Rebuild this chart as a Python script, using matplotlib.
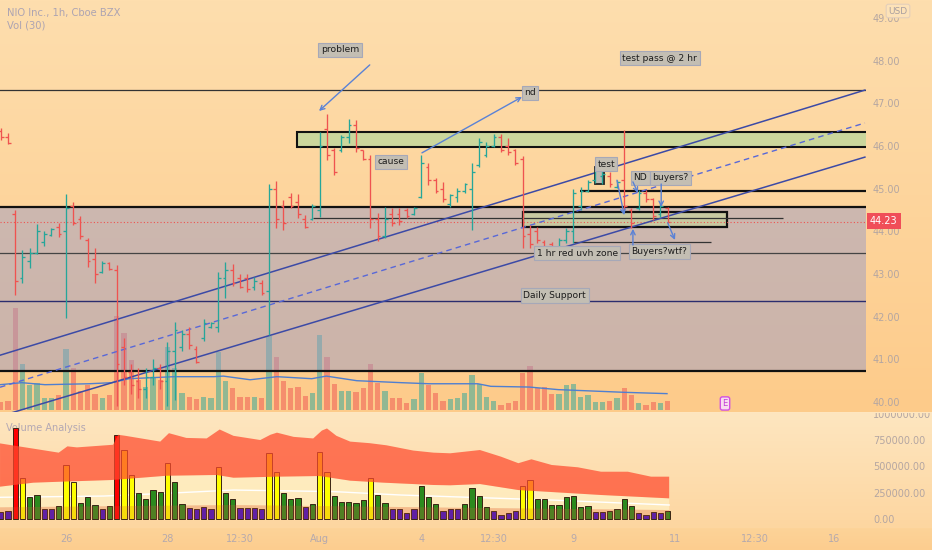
import numpy as np
import matplotlib
matplotlib.use("Agg")
import matplotlib.pyplot as plt
from matplotlib.patches import Rectangle, Polygon
from matplotlib.transforms import Bbox, TransformedBbox

# NIO 1h bars (index 0 = last bars of 22 Jul, ends 10 Aug)
opens = [46.35, 46.22, 44.40, 42.90, 43.30, 43.50, 43.75, 43.92, 44.10, 44.00,
         44.60, 44.30, 43.80, 43.35, 43.05, 43.25, 43.10, 41.30, 40.70, 40.50,
         40.30, 40.60, 40.80, 40.50, 41.20, 41.30, 41.60, 41.25, 41.50, 41.76,
         41.75, 42.90, 43.10, 42.90, 42.90, 42.70, 42.80, 42.60, 45.00, 44.60,
         44.80, 44.70, 44.30, 44.30, 44.50, 46.40, 45.90, 45.90, 46.20, 46.50,
         45.90, 45.70, 44.30, 43.90, 44.40, 44.40, 44.50, 44.40, 44.80, 45.50,
         45.20, 45.00, 44.65, 44.80, 44.95, 45.00, 45.55, 45.80, 46.00, 46.20,
         46.00, 45.90, 45.70, 43.95, 44.00, 43.75, 43.70, 43.60, 43.80, 44.00,
         44.60, 44.95, 45.20, 45.30, 45.30, 45.05, 45.20, 44.50, 44.55, 44.90,
         44.75, 44.40, 44.55]
highs = [46.42, 46.30, 44.50, 43.56, 43.61, 44.17, 44.01, 44.08, 44.20, 44.88,
         44.69, 44.36, 43.84, 43.61, 43.31, 43.28, 43.21, 41.50, 40.90, 40.80,
         40.80, 41.00, 40.90, 41.40, 41.88, 41.69, 41.76, 41.31, 41.95, 41.88,
         43.05, 43.28, 43.23, 43.00, 43.00, 42.93, 42.86, 45.11, 45.18, 44.73,
         44.90, 44.88, 44.38, 44.64, 46.33, 46.75, 45.95, 46.26, 46.63, 46.61,
         45.91, 45.79, 44.43, 44.57, 44.55, 44.55, 44.55, 44.57, 45.79, 45.60,
         45.25, 45.16, 44.88, 45.02, 45.13, 45.60, 46.19, 46.09, 46.28, 46.28,
         46.19, 45.93, 45.77, 44.15, 44.10, 43.80, 43.75, 43.84, 44.08, 44.99,
         45.04, 45.20, 45.48, 45.45, 45.39, 45.20, 46.38, 44.55, 44.97, 44.97,
         44.78, 44.66, 44.57]
lows = [46.14, 46.05, 42.51, 42.79, 43.14, 43.47, 43.66, 43.89, 43.87, 41.97,
        44.15, 43.82, 43.16, 42.79, 43.02, 43.09, 39.90, 40.40, 40.20, 40.10,
        40.10, 40.40, 40.30, 39.90, 40.05, 41.20, 41.24, 40.91, 41.43, 41.74,
        41.64, 42.44, 42.72, 42.67, 42.58, 42.63, 42.51, 41.57, 44.08, 44.03,
        44.55, 44.31, 44.08, 44.27, 44.34, 45.67, 45.32, 45.86, 46.07, 45.86,
        45.67, 44.08, 43.77, 43.84, 44.13, 44.15, 44.31, 44.38, 44.78, 45.09,
        44.90, 44.69, 44.57, 44.69, 44.90, 44.03, 45.51, 45.74, 45.98, 45.86,
        45.79, 45.55, 43.61, 43.61, 43.73, 43.52, 43.52, 43.56, 43.73, 43.73,
        44.50, 44.92, 45.13, 45.10, 45.04, 45.02, 44.50, 44.08, 44.50, 44.69,
        44.27, 44.34, 44.20]
closes = [46.20, 46.08, 42.85, 43.40, 43.50, 44.00, 43.95, 44.05, 43.95, 44.55,
          44.20, 43.90, 43.30, 43.00, 43.25, 43.12, 40.90, 40.60, 40.40, 40.30,
          40.60, 40.80, 40.50, 41.20, 41.70, 41.60, 41.35, 40.95, 41.85, 41.86,
          42.90, 43.10, 42.80, 42.70, 42.65, 42.85, 42.55, 45.00, 44.30, 44.20,
          44.60, 44.40, 44.10, 44.60, 46.00, 45.80, 45.40, 46.20, 46.50, 45.95,
          45.70, 44.30, 43.90, 44.30, 44.20, 44.25, 44.35, 44.55, 45.60, 45.20,
          44.95, 44.75, 44.85, 44.95, 45.10, 45.40, 46.10, 46.00, 46.20, 45.90,
          45.85, 45.60, 43.90, 43.70, 43.80, 43.55, 43.55, 43.80, 44.00, 44.90,
          44.95, 45.15, 45.45, 45.35, 45.10, 45.15, 44.60, 44.20, 44.90, 44.75,
          44.35, 44.60, 44.23]
volume = [63, 76, 861, 386, 212, 228, 95, 95, 123, 513,
          354, 155, 212, 133, 95, 127, 798, 655, 418, 250,
          193, 275, 256, 529, 354, 139, 108, 92, 111, 95,
          491, 244, 187, 104, 104, 104, 98, 624, 443, 244,
          187, 196, 117, 139, 633, 443, 218, 161, 158, 149,
          180, 386, 228, 155, 98, 98, 60, 92, 313, 206,
          139, 76, 92, 98, 139, 294, 218, 111, 76, 38,
          60, 76, 313, 367, 187, 193, 133, 133, 206, 218,
          111, 123, 63, 63, 76, 98, 187, 123, 54, 38,
          63, 54, 76]  # thousands
# volume analysis class per bar: b=low g=normal y=high r=very high
va_class = ("bbryggbbgy" "ygggbgryyg" "gggyggbbbb" "yggbbbbyyg" "ggbgyygggg"
            "gyggbbbbgg" "gbbbggggbb" "bbyygggggg" "ggbbggggbb" "bbg")

# Vol(30) moving average
vol_ma_x = [-0.1, 2.9, 6.1, 12.2, 15.3, 17.7, 23.9, 29.4, 30.7, 34.4, 38.1,
            42.9, 44.9, 49.1, 55.3, 59.1, 65.8, 67.6, 72.9, 76.9, 86.1, 91.9]
vol_ma = [212, 229, 212, 220, 229, 263, 280, 280, 285, 254, 280,
          263, 285, 246, 229, 220, 220, 198, 192, 170, 147, 136]

# Volume Analysis bands (thousands)
band_hi_x = [-0.1, 8.0, 9.2, 10.5, 15.5, 16.2, 17.2, 22.0, 23.2, 25.6, 28.4, 30.2,
             32.1, 35.8, 37.2, 38.1, 40.4, 43.1, 44.3, 45.0, 46.3, 48.2, 50.9,
             53.2, 56.9, 59.7, 62.0, 66.1, 69.0, 71.4, 73.2, 76.0, 79.6, 82.8,
             86.5, 89.7, 92.2]
band_hi = [718, 630, 690, 680, 705, 800, 790, 735, 815, 770, 765, 850,
           790, 750, 800, 820, 780, 765, 840, 860, 790, 735, 720,
           700, 650, 630, 624, 655, 592, 530, 567, 513, 491, 449,
           449, 402, 402]
band_mid_x = [-0.1, 4.5, 8.2, 15.2, 18.3, 22.9, 29.8, 32.1, 38.1, 44.0, 48.2,
              52.8, 59.7, 62.0, 66.1, 71.4, 76.0, 82.8, 92.2]
band_mid = [307, 345, 354, 370, 386, 411, 418, 392, 402, 408, 364,
            345, 323, 320, 332, 275, 256, 228, 196]
va_avg_x = [-0.1, 14.2, 22.9, 32.1, 46.0, 55.1, 62.0, 76.0, 92.2]
va_avg = [206, 218, 244, 275, 260, 228, 212, 180, 133]
band_lo_x = [-0.1, 32.1, 62.0, 92.2]
band_lo = [111, 133, 108, 85]

# drawn levels / zones (price)
zone_grey = (40.73, 44.57)
zone_top = (45.98, 46.33)
zone_uvh = (44.10, 44.45)
last_price = 44.23
channel_x = [-0.1, 119.2]
channel_up = [41.10, 47.31]
channel_mid = [40.35, 46.54]
channel_dn = [39.67, 45.74]

time_ticks = [9, 23, 33, 44, 58, 68, 79, 93, 104, 115]
time_labels = ["26", "28", "12:30", "Aug", "4", "12:30", "9", "11", "12:30", "16"]
price_ticks = [40, 41, 42, 43, 44, 45, 46, 47, 48, 49]
va_ticks = [0, 250000, 500000, 750000]

W, H = 932, 550
fig = plt.figure(figsize=(W / 100, H / 100), dpi=100)

# background gradient
grad = np.zeros((H, 1, 3))
def seg(y0, y1, c0, c1):
    t = np.linspace(0, 1, y1 - y0)[:, None]
    grad[y0:y1, 0, :] = (np.array(c0) * (1 - t) + np.array(c1) * t) / 255
seg(0, 412, (254, 222, 174), (253, 203, 138))
seg(412, 528, (254, 230, 192), (253, 214, 160))
seg(528, 550, (253, 211, 152), (252, 205, 143))
bg = fig.add_axes([0, 0, 1, 1], zorder=-5)
bg.imshow(grad, aspect="auto", extent=(0, 1, 0, 1))
bg.axis("off")

main_rect = [0, 1 - 412 / H, 866 / W, 412 / H]
ax_vol = fig.add_axes(main_rect, zorder=1)
ax = fig.add_axes(main_rect, zorder=2)
ax_va = fig.add_axes([0, 1 - 528 / H, 866 / W, 115 / H], zorder=1)

xlim = (-0.103, 119.35)
n = len(opens)
idx = np.arange(n)
up = np.array(closes) >= np.array(opens)

# volume overlay
for a in (ax_vol, ax, ax_va):
    a.set_facecolor("none")
    a.set_xlim(*xlim)
    for s in a.spines.values():
        s.set_visible(False)
ax_vol.bar(idx, np.array(volume) * 1000, width=0.75,
           color=np.where(up, "#26a69a", "#ef5350"), alpha=0.5, linewidth=0)
ax_vol.plot(vol_ma_x, np.array(vol_ma) * 1000, color="#4f7fd0", lw=1)
ax_vol.set_ylim(-0.02e6, 3.48e6)
ax_vol.set_xticks([])
ax_vol.set_yticks([])

# main pane
ax.set_ylim(39.77, 49.42)
ax.axhspan(*zone_grey, color="#9c9cc4", alpha=0.5, lw=0, zorder=1)
ax.axhline(zone_grey[0], color="#111", lw=1.6, zorder=3)
ax.axhline(zone_grey[1], color="#111", lw=1.6, zorder=3)
ax.add_patch(Rectangle((40.9, zone_top[0]), 90, zone_top[1] - zone_top[0],
                       fc="#cbd69c", ec="#111", lw=1.5, zorder=2))
ax.add_patch(Rectangle((72.0, zone_uvh[0]), 28.2, zone_uvh[1] - zone_uvh[0],
                       fc="#c6d896", alpha=0.55, ec="none", zorder=2))
ax.add_patch(Rectangle((72.0, zone_uvh[0]), 28.2, zone_uvh[1] - zone_uvh[0],
                       fc="none", ec="#111", lw=1.6, zorder=3))
ax.axhline(47.31, color="#333", lw=0.9, zorder=3)
ax.hlines(44.95, 79.9, 125, color="#111", lw=1.6, zorder=3)
ax.hlines(44.31, 43.1, 107.9, color="#333", lw=0.9, zorder=3)
ax.hlines(43.75, 78.9, 98.0, color="#333", lw=0.9, zorder=3)
ax.axhline(43.49, color="#444", lw=0.9, zorder=3)
ax.axhline(42.37, color="#2b2d6e", lw=1.0, zorder=3)
ax.axhline(last_price, color="#ef5350", lw=0.8, ls=(0, (1, 2)), zorder=3)

ax.plot(channel_x, channel_up, color="#3c4aa6", lw=1.1, zorder=3)
ax.plot(channel_x, channel_dn, color="#3c4aa6", lw=1.1, zorder=3)
ax.plot(channel_x, channel_mid, color="#5868d8", lw=1.0, ls=(0, (4, 3)), zorder=3)

ax.add_patch(Rectangle((82.0, 45.11), 1.2, 0.40, fc="#bdb8b0", ec="#222",
                       lw=1.3, zorder=4))

# OHLC bars
cols = np.where(up, "#26a69a", "#ef5350")
ax.vlines(idx, lows, highs, colors=cols, lw=0.95, zorder=5)
ax.hlines(opens, idx - 0.38, idx, colors=cols, lw=0.95, zorder=5)
ax.hlines(closes, idx, idx + 0.38, colors=cols, lw=0.95, zorder=5)

box = dict(boxstyle="square,pad=0.28", fc="#c3beb3", ec="#a6a8b8", lw=0.8)
notes = [("problem", 46.8, 48.25), ("nd", 73.0, 47.25), ("cause", 53.8, 45.63),
         ("test pass @ 2 hr", 90.9, 48.06), ("test", 83.5, 45.57),
         ("ND", 88.2, 45.26), ("buyers?", 92.4, 45.26),
         ("Buyers?wtf?", 90.8, 43.53), ("1 hr red uvh zone", 79.5, 43.49),
         ("Daily Support", 76.4, 42.50)]
for s, x, y in notes:
    ax.text(x, y, s, ha="center", va="center", fontsize=6.6, color="#1c1c1c",
            bbox=box, zorder=7)

arrows = [((50.9, 47.90), (43.9, 46.82)), ((58.1, 45.84), (71.9, 47.15)),
          ((87.2, 45.16), (87.9, 44.90)), ((91.1, 45.11), (91.1, 44.57)),
          ((85.0, 45.20), (86.0, 44.38)), ((87.2, 43.68), (87.2, 44.06)),
          ((92.0, 44.20), (93.0, 43.80))]
for a0, a1 in arrows:
    ax.annotate("", xy=a1, xytext=a0, zorder=8,
                arrowprops=dict(arrowstyle="->", color="#5a82d6", lw=1.0,
                                shrinkA=0, shrinkB=0, mutation_scale=8))

ax.text(99.9, 39.97, "E", ha="center", va="center", fontsize=6, color="#c23fd6",
        bbox=dict(boxstyle="round,pad=0.25", fc="#f8dcef", ec="#d250e2", lw=1),
        zorder=8)

ax.yaxis.tick_right()
ax.set_yticks(price_ticks)
ax.set_yticklabels([f"{p:.2f}" for p in price_ticks])
ax.tick_params(axis="y", length=0, pad=5, labelsize=7, labelcolor="#b4a6a2")
ax.set_xticks([])

# volume analysis pane
ax_va.set_ylim(-85470, 1006650)
va_cols = {"b": "#3f10c4", "g": "#2b8a1e", "y": "#ffff00", "r": "#ff0000"}
pale = list(zip(band_mid_x, np.array(band_mid) * 1000)) + \
    list(zip(band_lo_x[::-1], np.array(band_lo[::-1]) * 1000))
ax_va.add_patch(Polygon(pale, closed=True, fc="#fff2c6", alpha=0.7, lw=0, zorder=1))
ax_va.plot(va_avg_x, np.array(va_avg) * 1000, color="white", lw=1, zorder=1.5)
ax_va.bar(idx, np.array(volume) * 1000, width=0.7,
          color=[va_cols[c] for c in va_class], edgecolor="#3a2414", lw=0.7,
          zorder=2)
red = list(zip(band_hi_x, np.array(band_hi) * 1000)) + \
    list(zip(band_mid_x[::-1], np.array(band_mid[::-1]) * 1000))
ax_va.add_patch(Polygon(red, closed=True, fc="#ff4a2e", alpha=0.72, lw=0, zorder=3))
low = list(zip(band_lo_x, np.array(band_lo) * 1000)) + [(92.2, 0), (-0.1, 0)]
ax_va.add_patch(Polygon(low, closed=True, fc="#d85a36", alpha=0.22, lw=0, zorder=3))

ax_va.yaxis.tick_right()
ax_va.set_yticks(va_ticks)
ax_va.set_yticklabels([f"{v:.2f}" for v in va_ticks])
ax_va.tick_params(axis="y", length=0, pad=5, labelsize=7, labelcolor="#b4a6a2")
ax_va.set_xticks(time_ticks)
ax_va.set_xticklabels(time_labels)
ax_va.tick_params(axis="x", length=0, pad=4, labelsize=7, labelcolor="#b5a9ad")
ax_va.text(0.0075, 0.87, "Volume Analysis", transform=ax_va.transAxes,
           fontsize=7, color="#b3a8b4", va="center", zorder=0.5)

# header texts and axis badges
fig.text(7 / W, 1 - 13 / H, "NIO Inc., 1h, Cboe BZX", fontsize=7.2,
         color="#ada4b2", va="center")
fig.text(7 / W, 1 - 26 / H, "Vol (30)", fontsize=7.2, color="#ada4b2", va="center")
t = fig.text(873 / W, 1 - 415 / H, "1000000.00", fontsize=7, color="#b4a6a2",
             va="center")
t.set_clip_on(True)
t.set_clip_box(TransformedBbox(Bbox([[866 / W, 0], [1, 1 - 413 / H]]),
                               fig.transFigure))
fig.text(898 / W, 1 - 11 / H, "USD", fontsize=6.5, color="#a99f9f", ha="center",
         va="center", bbox=dict(boxstyle="round,pad=0.25", fc="#fde2b8",
                                ec="#e3cfbb", lw=0.8))
fig.text(870 / W, 1 - 221 / H, "44.23", fontsize=7, color="white", va="center",
         bbox=dict(boxstyle="square,pad=0.3", fc="#f04e58", ec="none"))

fig.savefig("out.png", dpi=100)
